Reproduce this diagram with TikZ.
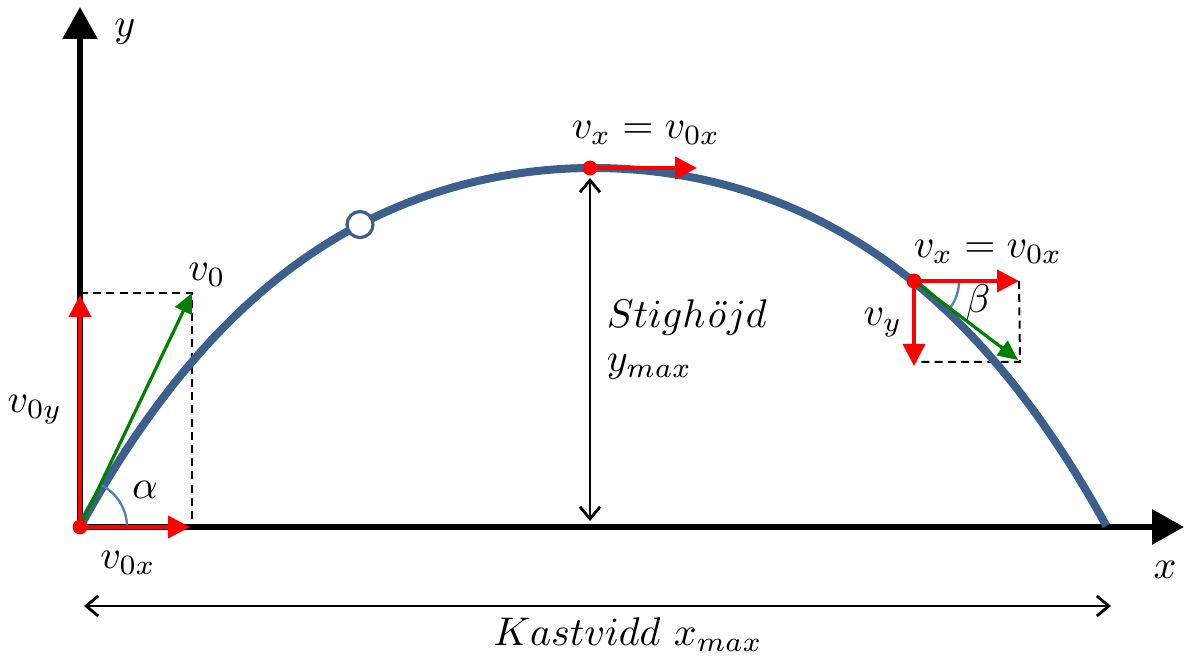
\documentclass[tikz,border=0pt]{standalone}
\usetikzlibrary{arrows.meta}
\definecolor{trajblue}{RGB}{60,95,140}
\definecolor{arcblue}{RGB}{79,129,189}
\definecolor{vgreen}{RGB}{0,128,0}
\begin{document}
\begin{tikzpicture}[x=0.25pt,y=-0.25pt,
  axis/.style={line width=1.5pt,-{Triangle[length=8pt,width=8.5pt]}},
  comp/.style={red,line width=1pt,-{Triangle[length=5.5pt,width=5.5pt]}},
  vel/.style={vgreen,line width=0.8pt,-{Triangle[length=5pt,width=4.5pt]}},
  guide/.style={line width=0.5pt,dash pattern=on 2pt off 1.3pt},
  span/.style={line width=0.7pt,{Straight Barb[length=3pt,width=5pt]}-{Straight Barb[length=3pt,width=5pt]}},
  dot/.style={circle,fill=red,inner sep=0pt,minimum size=3.7pt},
  ang/.style={arcblue,line width=0.6pt},
  lbl/.style={inner sep=0pt}]
  \useasboundingbox (0,0) rectangle (1186,660);

  % points of the throw
  \coordinate (O) at (80,527);
  \coordinate (ytop) at (80,7);
  \coordinate (xend) at (1184,527);
  \coordinate (V0) at (192,293);
  \coordinate (C0y) at (80,293);
  \coordinate (C0x) at (192,527);
  \coordinate (V0y) at (80,295);
  \coordinate (V0x) at (190,527);
  \coordinate (T) at (590,168);
  \coordinate (Tx) at (697,168);
  \coordinate (Ttop) at (590,178);
  \coordinate (Tbot) at (590,521);
  \coordinate (P) at (914,281);
  \coordinate (Px) at (1019,281);
  \coordinate (Py) at (914,366);
  \coordinate (Pv) at (1018,360);
  \coordinate (Q) at (1020,362);
  \coordinate (Qy) at (914,362);
  \coordinate (K1) at (84,606);
  \coordinate (K2) at (1111,606);

  % axes
  \draw[axis] (80,530) -- (ytop);
  \draw[axis] (77,527) -- (xend);

  % dashed boxes
  \draw[guide] (C0y) -- (V0) -- (C0x);
  \draw[guide] (Px) -- (Q) -- (Qy);

  % height and range
  \draw[span] (Ttop) -- (Tbot);
  \draw[span] (K1) -- (K2);

  % trajectory
  \draw[trajblue,line width=2pt] plot[domain=-1:1,samples=101,smooth]
    ({593.5+513.5*\x},{168+359*(0.7*\x*\x+0.3*\x*\x*\x*\x)});
  \node[circle,draw=trajblue,fill=white,line width=0.8pt,minimum size=6.5pt,inner sep=0pt]
    (ball) at (360,{168+359*(0.7*(233.5/513.5)^2+0.3*(233.5/513.5)^4)}) {};

  % angles
  \draw[ang] (O) ++(47,0) arc[start angle=0,end angle=-64,radius=47];
  \draw[ang] (P) ++(45,0) arc[start angle=0,end angle=37,radius=45];

  % velocities
  \draw[vel] (O) -- (V0);
  \draw[vel] (P) -- (Pv);
  \draw[comp] (O) -- (V0y);
  \draw[comp] (O) -- (V0x);
  \draw[comp] (T) -- (Tx);
  \draw[comp] (P) -- (Px);
  \draw[comp] (P) -- (Py);
  \node[dot] (o) at (O) {};
  \node[dot] (t) at (T) {};
  \node[dot] (p) at (P) {};

  % labels
  \node[lbl] (ylab) at (125,32) {$y$};
  \node[lbl] (xlab) at (1165,570) {$x$};
  \node[lbl] (v0) at (207,275) {$v_0$};
  \node[lbl] (v0y) at (35,410) {$v_{0y}$};
  \node[lbl] (v0x) at (128,563) {$v_{0x}$};
  \node[lbl] (alpha) at (145,490) {$\alpha$};
  \node[lbl] (vxtop) at (646,133) {$v_x = v_{0x}$};
  \node[lbl,anchor=west,align=left] (hgt) at (606,340) {$Stigh$\textit{ö}$jd$\\[-1pt]$y_{max}$};
  \node[lbl] (rng) at (628,635) {$Kastvidd\ x_{max}$};
  \node[lbl] (vxr) at (988,252) {$v_x = v_{0x}$};
  \node[lbl] (vy) at (883,323) {$v_y$};
  \node[lbl] (beta) at (978,303) {$\beta$};
\end{tikzpicture}
\end{document}
